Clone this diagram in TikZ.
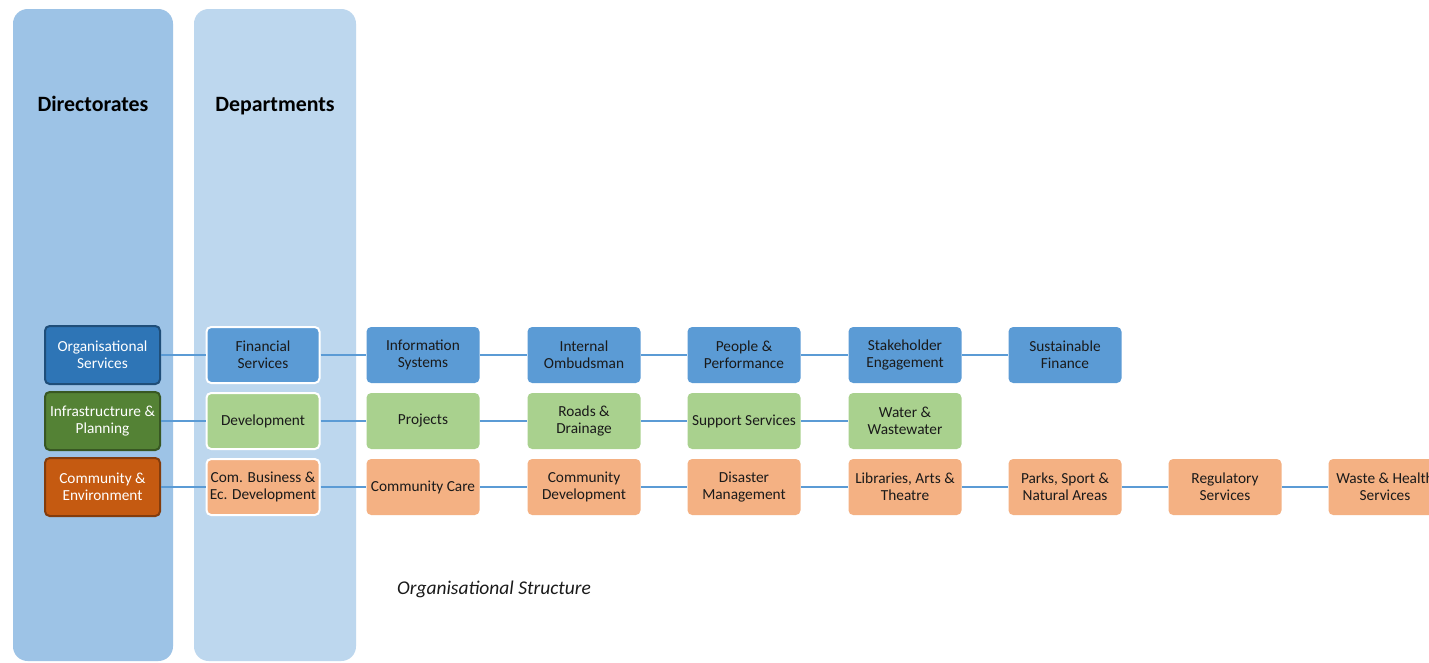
\documentclass[tikz,border=0pt]{standalone}
\usepackage{fontspec}
\setmainfont{Carlito}
\definecolor{panelA}{HTML}{9DC3E6}
\definecolor{panelB}{HTML}{BDD7EE}
\definecolor{blueD}{HTML}{2E75B6}
\definecolor{blueDb}{HTML}{1F4E79}
\definecolor{blueL}{HTML}{5B9BD5}
\definecolor{greenD}{HTML}{548235}
\definecolor{greenDb}{HTML}{385723}
\definecolor{greenL}{HTML}{A9D18E}
\definecolor{orangeD}{HTML}{C55A11}
\definecolor{orangeDb}{HTML}{843C0C}
\definecolor{orangeL}{HTML}{F4B183}
\definecolor{txt}{HTML}{1A1A1A}
\definecolor{linkc}{HTML}{5B9BD5}
\tikzset{
  panel/.style={rounded corners=11pt, draw=none},
  boxbase/.style={rectangle, rounded corners=3.5pt, minimum width=84.75pt, minimum height=42pt,
    align=center, font=\fontsize{11.5}{13}\selectfont, inner sep=0pt},
  dirbox/.style={boxbase, minimum width=86.25pt, minimum height=43.5pt, line width=1.5pt, text=white},
  deptbox/.style={boxbase, draw=white, line width=1.5pt, text=txt},
  unitbox/.style={boxbase, draw=none, text=txt},
  link/.style={draw=linkc, line width=1.5pt},
  heading/.style={font=\fontsize{16.4}{18}\selectfont\bfseries, text=black}
}
\begin{document}
\begin{tikzpicture}[x=0.75pt,y=-0.75pt]
\useasboundingbox (0,0) rectangle (1429,662);
\clip (0,0) rectangle (1429,662);
\fill[white] (0,0) rectangle (1429,662);
% panels
\fill[panelA, panel] (13,9) rectangle (173,661);
\fill[panelB, panel] (194,9) rectangle (356,661);
\node[heading, anchor=base] (hdir) at (93,111) {Directorates};
\node[heading, anchor=base] (hdep) at (275,111) {Departments};
% directorates
\node[dirbox, fill=blueD, draw=blueDb] (d1) at (102.5,355) {Organisational\\Services};
\node[dirbox, fill=greenD, draw=greenDb] (d2) at (102.5,421) {Infrastructrure \&\\Planning};
\node[dirbox, fill=orangeD, draw=orangeDb] (d3) at (102.5,487) {Community \&\\Environment};
% row 1
\node[deptbox, fill=blueL] (a1) at (263,355) {Financial\\Services};
\node[unitbox, fill=blueL] (a2) at (423,355) {Information\\Systems};
\node[unitbox, fill=blueL] (a3) at (584,355) {Internal\\Ombudsman};
\node[unitbox, fill=blueL] (a4) at (744,355) {People \&\\Performance};
\node[unitbox, fill=blueL] (a5) at (905,355) {Stakeholder\\Engagement};
\node[unitbox, fill=blueL] (a6) at (1065,355) {Sustainable\\Finance};
% row 2
\node[deptbox, fill=greenL] (b1) at (263,421) {Development};
\node[unitbox, fill=greenL] (b2) at (423,421) {Projects};
\node[unitbox, fill=greenL] (b3) at (584,421) {Roads \&\\Drainage};
\node[unitbox, fill=greenL] (b4) at (744,421) {Support Services};
\node[unitbox, fill=greenL] (b5) at (905,421) {Water \&\\Wastewater};
% row 3
\node[deptbox, fill=orangeL] (c1) at (263,487) {Com. Business \&\\Ec. Development};
\node[unitbox, fill=orangeL] (c2) at (423,487) {Community Care};
\node[unitbox, fill=orangeL] (c3) at (584,487) {Community\\Development};
\node[unitbox, fill=orangeL] (c4) at (744,487) {Disaster\\Management};
\node[unitbox, fill=orangeL] (c5) at (905,487) {Libraries, Arts \&\\Theatre};
\node[unitbox, fill=orangeL] (c6) at (1065,487) {Parks, Sport \&\\Natural Areas};
\node[unitbox, fill=orangeL] (c7) at (1225,487) {Regulatory\\Services};
\node[unitbox, fill=orangeL] (c8) at (1385,487) {Waste \& Health\\Services};
% links
\draw[link] (d1) -- (a1) (a1) -- (a2) (a2) -- (a3) (a3) -- (a4) (a4) -- (a5) (a5) -- (a6);
\draw[link] (d2) -- (b1) (b1) -- (b2) (b2) -- (b3) (b3) -- (b4) (b4) -- (b5);
\draw[link] (d3) -- (c1) (c1) -- (c2) (c2) -- (c3) (c3) -- (c4) (c4) -- (c5) (c5) -- (c6) (c6) -- (c7) (c7) -- (c8);
% caption
\node[font=\fontsize{14.6}{17}\selectfont\itshape, text=txt] (cap) at (494,589) {Organisational Structure};
\end{tikzpicture}
\end{document}
